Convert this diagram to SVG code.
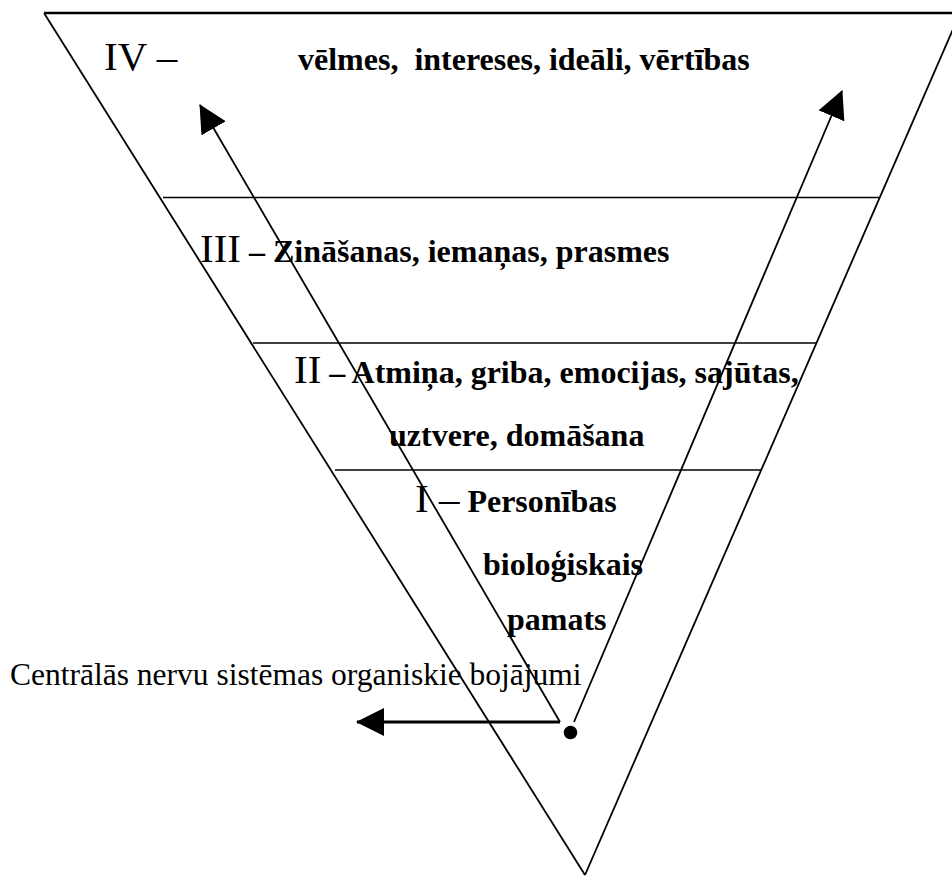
<svg xmlns="http://www.w3.org/2000/svg" width="952" height="876" viewBox="0 0 952 876">
<style>
  .edge{stroke:#000;stroke-width:1.8;fill:none}
  .top{stroke:#000;stroke-width:2.6;fill:none}
  .sep{stroke:#000;stroke-width:1.7;fill:none}
  .num{font-family:"Liberation Serif","Times New Roman",serif;font-size:41px;font-weight:normal;fill:#000}
  .b{font-family:"Liberation Serif","Times New Roman",serif;font-size:32px;font-weight:bold;fill:#000;white-space:pre}
  .r{font-family:"Liberation Serif","Times New Roman",serif;font-size:31.5px;font-weight:normal;fill:#000;white-space:pre}
  .arr{stroke:#000;stroke-width:1.8;fill:none}
  .arrh{stroke:#000;stroke-width:3;fill:none}
</style>
<defs>
  <marker id="head" markerUnits="userSpaceOnUse" markerWidth="28" markerHeight="28" viewBox="0 0 28 28" refX="27" refY="14" orient="auto">
    <path d="M0,0 L28,14 L0,28 Z" fill="#000"/>
  </marker>
</defs>
<g id="pyramid">
  <line class="top" x1="44" y1="13" x2="952" y2="13"/>
  <line class="edge" x1="44" y1="13" x2="585" y2="875"/>
  <line class="edge" x1="960" y1="13" x2="585" y2="875"/>
  <line class="sep" x1="163" y1="197.5" x2="880" y2="197.5"/>
  <line class="sep" x1="253" y1="343" x2="817" y2="343"/>
  <line class="sep" x1="335" y1="470" x2="762" y2="470"/>
</g>
<g id="level-4">
  <text class="num" x="104" y="70">IV –</text>
  <text class="b" x="298" y="70">vēlmes,  intereses, ideāli, vērtības</text>
</g>
<g id="level-3">
  <text y="262"><tspan class="num" x="200">III</tspan><tspan class="b"> – Zināšanas, iemaņas, prasmes</tspan></text>
</g>
<g id="level-2">
  <text y="383"><tspan class="num" x="294">II</tspan><tspan class="b"> – Atmiņa, griba, emocijas, sajūtas,</tspan></text>
  <text class="b" x="389" y="446">uztvere, domāšana</text>
</g>
<g id="level-1">
  <text y="512"><tspan class="num" x="415">I –</tspan><tspan class="b"> Personības</tspan></text>
  <text class="b" x="483" y="575">bioloģiskais</text>
  <text class="b" x="507" y="630">pamats</text>
</g>
<g id="cns-label">
  <text class="r" x="10" y="685">Centrālās nervu sistēmas organiskie bojājumi</text>
</g>
<g id="connectors">
  <line class="arr" x1="560" y1="722" x2="200" y2="105" marker-end="url(#head)"/>
  <line class="arr" x1="574" y1="722" x2="842" y2="91" marker-end="url(#head)"/>
  <line class="arrh" x1="560" y1="722" x2="357" y2="722" marker-end="url(#head)"/>
  <circle cx="570.5" cy="732.5" r="6.8" fill="#000"/>
</g>
</svg>
